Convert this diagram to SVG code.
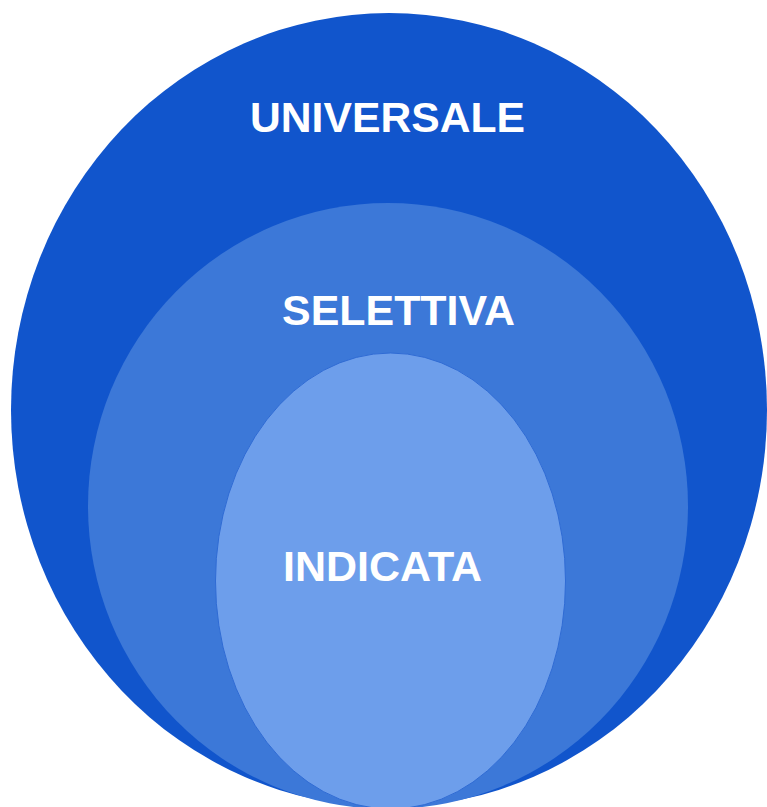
<svg xmlns="http://www.w3.org/2000/svg" width="767" height="807" viewBox="0 0 767 807">
<style>
.lbl{font-family:"Liberation Sans",Arial,sans-serif;font-weight:bold;font-size:43px;fill:#ffffff;text-anchor:middle}
</style>
<rect width="767" height="807" fill="#ffffff"/>
<g id="universale">
<ellipse cx="389" cy="410" rx="378" ry="397" fill="#1155cc"/>
<text class="lbl" x="387.5" y="132" textLength="275" lengthAdjust="spacingAndGlyphs">UNIVERSALE</text>
</g>
<g id="selettiva">
<ellipse cx="388" cy="506" rx="300" ry="303" fill="#3c78d8"/>
<text class="lbl" x="398.5" y="325" textLength="233" lengthAdjust="spacingAndGlyphs">SELETTIVA</text>
</g>
<g id="indicata">
<ellipse cx="390.5" cy="581" rx="175" ry="228" fill="#6d9eeb" stroke="#2f6bd4" stroke-width="1"/>
<text class="lbl" x="382.5" y="581" textLength="199" lengthAdjust="spacingAndGlyphs">INDICATA</text>
</g>
<g id="connectors"/>
</svg>
